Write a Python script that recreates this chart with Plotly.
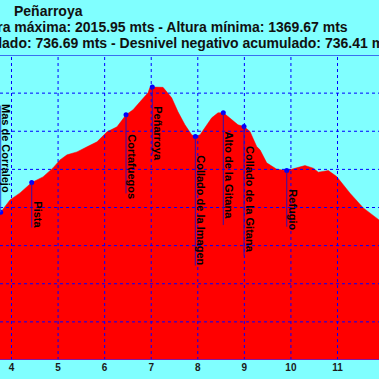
import plotly.graph_objects as go

# ---------------- data ----------------
dist_km = [3.753, 3.768, 3.968, 4.183, 4.434, 4.676, 4.891, 5.041, 5.192, 5.406, 5.621,
           5.836, 6.051, 6.265, 6.459, 6.609, 6.759, 6.931, 6.974, 7.023, 7.253, 7.440,
           7.575, 7.725, 7.869, 7.947, 8.048, 8.155, 8.299, 8.434, 8.548, 8.649, 8.864,
           8.993, 9.121, 9.265, 9.336, 9.480, 9.695, 9.910, 10.124, 10.302, 10.481,
           10.588, 10.803, 10.983, 11.269, 11.554, 11.891]
altitude_m = [1685.8, 1687.7, 1719.9, 1738.3, 1765.4, 1780.3, 1803.9, 1824.9, 1838.1, 1845.9,
              1859.1, 1872.2, 1898.4, 1911.5, 1943.0, 1956.2, 1977.2, 2000.8, 2015.2, 2015.95,
              2015.2, 1987.7, 1950.9, 1916.8, 1890.6, 1886.1, 1890.6, 1908.9, 1935.2, 1948.3,
              1948.3, 1938.6, 1916.8, 1912.3, 1899.2, 1859.8, 1851.2, 1817.1, 1800.5, 1796.9,
              1803.9, 1810.0, 1803.1, 1792.7, 1796.9, 1781.1, 1737.5, 1698.9, 1667.5]

waypoint_names = ["Mas de Corralejo", "Pista", "Cortafuegos", "Peñarroya",
                  "Collado de la Imagen", "Alto de la Gitana", "Collado de la Gitana", "Refugio"]
waypoint_km = [3.768, 4.434, 6.459, 7.023, 7.947, 8.548, 8.993, 9.910]
waypoint_alt = [1687.7, 1765.4, 1943.0, 2015.95, 1886.1, 1948.3, 1912.3, 1796.9]

x_tick_vals = [4, 5, 6, 7, 8, 9, 10, 11]
x_tick_text = ["4", "5", "6", "7", "8", "9", "10", "11"]
y_grid_vals = [1300, 1400, 1500, 1600, 1700, 1800, 1900, 2000, 2100]

title_line1 = "Peñarroya"
title_line2 = "Altura máxima: 2015.95 mts - Altura mínima: 1369.67 mts"
title_line3 = "Desnivel positivo acumulado: 736.69 mts - Desnivel negativo acumulado: 736.41 mts"

# ---------------- style ----------------
W, H = 379, 379
BG = "#80FFFF"
FONT = "Liberation Sans, Arial, sans-serif"
X_RANGE = [3.753, 11.891]
Y_RANGE = [1300, 2100]
M_TOP, M_BOT = 55, 19
PLOT_H = H - M_TOP - M_BOT
labels_above = {"Mas de Corralejo"}
LABEL_GAP = 17

fig = go.Figure()

fig.add_trace(go.Scatter(
    x=dist_km, y=altitude_m, mode="lines", fill="tozeroy",
    fillcolor="#FF0000", line=dict(color="#FF0000", width=0.5),
    hoverinfo="skip", showlegend=False))

shapes = []
# grid drawn above the filled profile
for xv in x_tick_vals:
    shapes.append(dict(type="line", xref="x", yref="y", x0=xv, x1=xv,
                       y0=Y_RANGE[0], y1=Y_RANGE[1], layer="above",
                       line=dict(color="#0000FF", width=1, dash="dot")))
for yv in y_grid_vals[1:-1]:
    shapes.append(dict(type="line", xref="x", yref="y", x0=X_RANGE[0], x1=X_RANGE[1],
                       y0=yv, y1=yv, layer="above",
                       line=dict(color="#0000FF", width=1, dash="dot")))
# frame top / bottom
shapes.append(dict(type="line", xref="paper", yref="y", x0=0, x1=1, y0=Y_RANGE[1], y1=Y_RANGE[1],
                   layer="above", line=dict(color="#3A6FF0", width=2)))
shapes.append(dict(type="line", xref="paper", yref="y", x0=0, x1=1, y0=Y_RANGE[0], y1=Y_RANGE[0],
                   layer="above", line=dict(color="#5A1FD0", width=1.5)))

annotations = []
for name, xk, ya in zip(waypoint_names, waypoint_km, waypoint_alt):
    est_len = 5.6 * len(name)
    if name in labels_above:
        shapes.append(dict(type="line", xref="x", yref="y", ysizemode="pixel", yanchor=ya,
                           x0=xk, x1=xk, y0=0, y1=LABEL_GAP + est_len, layer="above",
                           line=dict(color="#2050E0", width=1)))
        annotations.append(dict(x=xk, y=ya, xref="x", yref="y", text="<b>%s</b>" % name,
                                textangle=90, showarrow=False, xanchor="left", yanchor="bottom",
                                yshift=LABEL_GAP, xshift=-2,
                                font=dict(family=FONT, size=11, color="#000000")))
    else:
        shapes.append(dict(type="line", xref="x", yref="y", ysizemode="pixel", yanchor=ya,
                           x0=xk, x1=xk, y0=0, y1=-(LABEL_GAP + est_len), layer="above",
                           line=dict(color="#3010B0", width=1)))
        annotations.append(dict(x=xk, y=ya, xref="x", yref="y", text="<b>%s</b>" % name,
                                textangle=90, showarrow=False, xanchor="left", yanchor="top",
                                yshift=-LABEL_GAP, xshift=-2,
                                font=dict(family=FONT, size=11, color="#000000")))

fig.add_trace(go.Scatter(
    x=waypoint_km, y=waypoint_alt, mode="markers",
    marker=dict(color="#0000FF", size=5), hoverinfo="skip", showlegend=False))

def py(pix):
    return (H - M_BOT - pix) / PLOT_H

annotations.append(dict(xref="paper", yref="paper", x=12 / W, y=py(10.5), xanchor="left",
                        yanchor="middle", showarrow=False, text="<b>%s</b>" % title_line1,
                        font=dict(family=FONT, size=14, color="#111111")))
annotations.append(dict(xref="paper", yref="paper", x=350 / W, y=py(27), xanchor="right",
                        yanchor="middle", showarrow=False, text="<b>%s</b>" % title_line2,
                        font=dict(family=FONT, size=14, color="#111111")))
annotations.append(dict(xref="paper", yref="paper", x=-168 / W, y=py(42.5), xanchor="left",
                        yanchor="middle", showarrow=False, text="<b>%s</b>" % title_line3,
                        font=dict(family=FONT, size=14, color="#111111")))

fig.update_layout(
    width=W, height=H, paper_bgcolor=BG, plot_bgcolor=BG,
    margin=dict(l=0, r=0, t=M_TOP, b=M_BOT, pad=0),
    shapes=shapes, annotations=annotations, showlegend=False,
    xaxis=dict(range=X_RANGE, showgrid=False, zeroline=False, tickvals=x_tick_vals,
               ticktext=x_tick_text, ticks="", ticklen=0,
               tickfont=dict(family=FONT, size=10, color="#1A1A1A", weight="bold"),
               showline=False, fixedrange=True),
    yaxis=dict(range=Y_RANGE, showgrid=False, zeroline=False, showticklabels=False,
               ticks="", showline=False, fixedrange=True),
)

fig.write_html("out.html", config=dict(displayModeBar=False),
               post_script="document.body.style.margin='0';document.body.style.overflow='hidden';")
